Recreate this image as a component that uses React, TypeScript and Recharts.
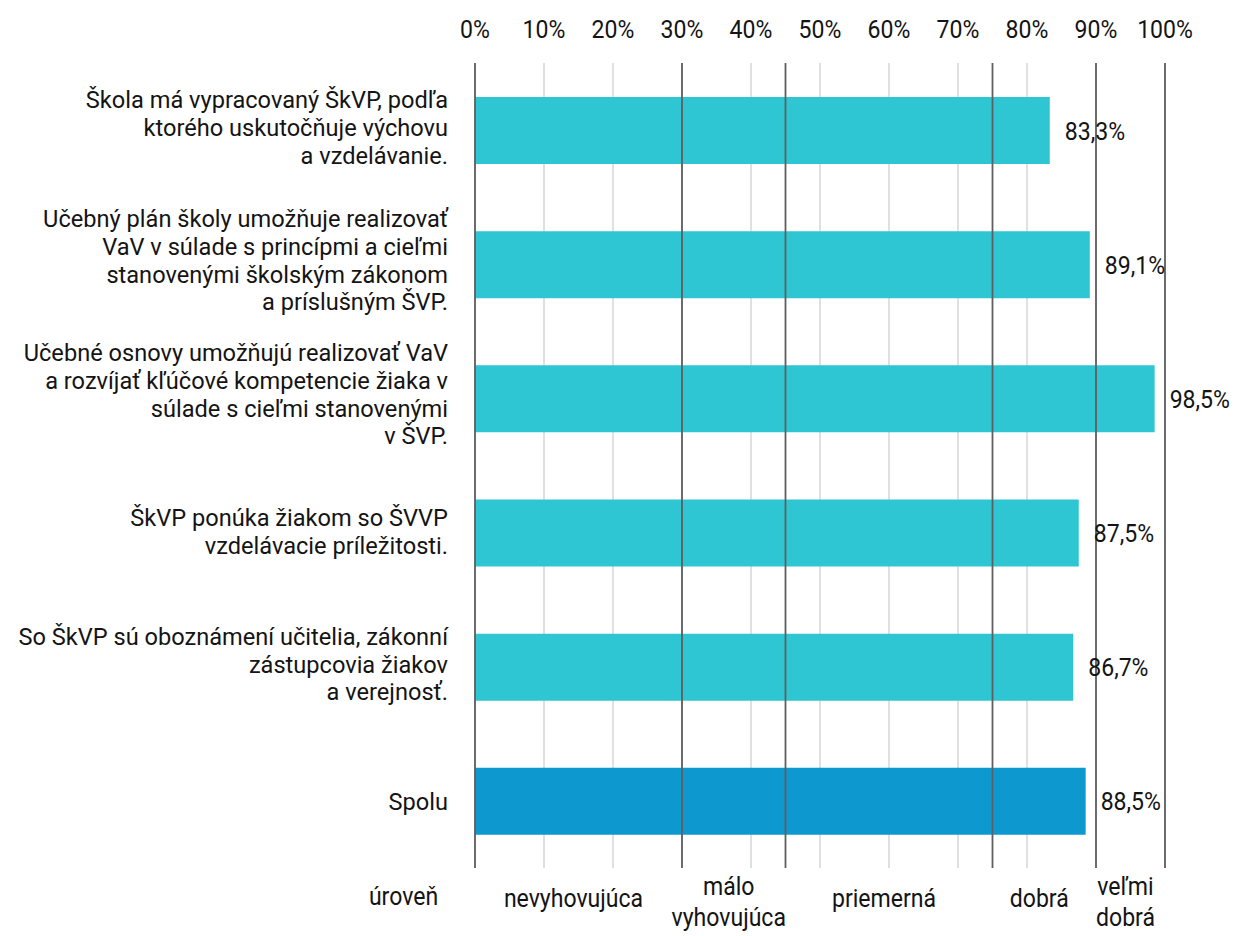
import { Bar, BarChart, CartesianGrid, Cell, LabelList, ReferenceLine, XAxis, YAxis } from "recharts";

const categories = [
  "Škola má vypracovaný ŠkVP, podľa\nktorého uskutočňuje výchovu\na vzdelávanie.",
  "Učebný plán školy umožňuje realizovať\nVaV v súlade s princípmi a cieľmi\nstanovenými školským zákonom\na príslušným ŠVP.",
  "Učebné osnovy umožňujú realizovať VaV\na rozvíjať kľúčové kompetencie žiaka v\nsúlade s cieľmi stanovenými\nv ŠVP.",
  "ŠkVP ponúka žiakom so ŠVVP\nvzdelávacie príležitosti.",
  "So ŠkVP sú oboznámení učitelia, zákonní\nzástupcovia žiakov\na verejnosť.",
  "Spolu",
];

const values = [83.3, 89.1, 98.5, 87.5, 86.7, 88.5];

const percentTicks = [0, 10, 20, 30, 40, 50, 60, 70, 80, 90, 100];

// hranice úrovní hodnotenia
const levelBounds = [0, 30, 45, 75, 90, 100];
const levelNames = ["nevyhovujúca", "málo\nvyhovujúca", "priemerná", "dobrá", "veľmi\ndobrá"];
const levelTitle = "úroveň";
const totalCategory = "Spolu";

const rows = categories.map((name, i) => ({ name, value: values[i] }));
const levelMids = levelNames.map((_, i) => (levelBounds[i] + levelBounds[i + 1]) / 2);

const FONT = "Roboto, 'Noto Sans', sans-serif";
const TEXT = "#141414";
const TEAL = "#2ec6d2";
const BLUE = "#0e98d0";

function NarrowText({ x, y, anchor, children }: { x: number; y: number; anchor: "start" | "middle" | "end"; children: any }) {
  return (
    <text
      transform={`translate(${x} ${y}) scale(0.87 1)`}
      x={0}
      y={0}
      textAnchor={anchor}
      fontFamily={FONT}
      fontSize={26.5}
      fill={TEXT}
    >
      {children}
    </text>
  );
}

function PercentTick(props: any) {
  return <NarrowText x={props.x} y={38} anchor="middle">{`${props.payload.value}%`}</NarrowText>;
}

function CategoryTick(props: any) {
  const lines = String(props.payload.value).split("\n");
  const n = lines.length;
  const base = props.y + 9 - 1.5 * (n - 1) - ((n - 1) * 27.7) / 2;
  return (
    <g>
      {lines.map((line, i) => (
        <text key={i} x={448} y={base + i * 27.7} textAnchor="end" fontFamily={FONT} fontSize={23.6} fill={TEXT}>
          {line}
        </text>
      ))}
    </g>
  );
}

function LevelLabel(props: any) {
  const vb = props.viewBox || {};
  const lines = String(props.name).split("\n");
  const first = lines.length > 1 ? 895 : 907;
  return (
    <g>
      {lines.map((line, i) => (
        <NarrowText key={i} x={(vb.x ?? 0) - 5} y={first + i * 31} anchor="middle">
          {line}
        </NarrowText>
      ))}
    </g>
  );
}

function LevelTitle(props: any) {
  const vb = props.viewBox || {};
  return <NarrowText x={(vb.x ?? 475) - 71.5} y={905} anchor="middle">{levelTitle}</NarrowText>;
}

function ValueLabel(props: any) {
  const { x, y, width, height, value } = props;
  const text = `${Number(value).toFixed(1).replace(".", ",")}%`;
  return (
    <NarrowText x={x + width + 15} y={y + height / 2 + 9} anchor="start">
      {text}
    </NarrowText>
  );
}

export default function App() {
  return (
    <div style={{ position: "absolute", left: 0, top: 0, width: 1234, height: 936, background: "#fff" }}>
      <BarChart
        width={1234}
        height={936}
        data={rows}
        layout="vertical"
        margin={{ top: 0, right: 69, bottom: 68, left: 0 }}
      >
        <CartesianGrid horizontal={false} stroke="#d9d9d9" strokeWidth={1.6} />
        <XAxis
          type="number"
          orientation="top"
          domain={[0, 100]}
          ticks={percentTicks}
          interval={0}
          height={63}
          axisLine={false}
          tickLine={false}
          tick={<PercentTick />}
        />
        <YAxis
          type="category"
          dataKey="name"
          width={475}
          interval={0}
          axisLine={false}
          tickLine={false}
          tick={<CategoryTick />}
        />
        <Bar dataKey="value" barSize={67} isAnimationActive={false}>
          {rows.map((r) => (
            <Cell key={r.name} fill={r.name === totalCategory ? BLUE : TEAL} />
          ))}
          <LabelList dataKey="value" content={<ValueLabel />} />
        </Bar>
        {levelBounds.map((b) => (
          <ReferenceLine
            key={b}
            x={b}
            stroke="#5f5f5f"
            strokeWidth={1.8}
            label={b === 0 ? <LevelTitle /> : undefined}
          />
        ))}
        {levelMids.map((m, i) => (
          <ReferenceLine
            key={`mid-${m}`}
            x={m}
            stroke="none"
            strokeOpacity={0}
            label={<LevelLabel name={levelNames[i]} />}
          />
        ))}
      </BarChart>
    </div>
  );
}
